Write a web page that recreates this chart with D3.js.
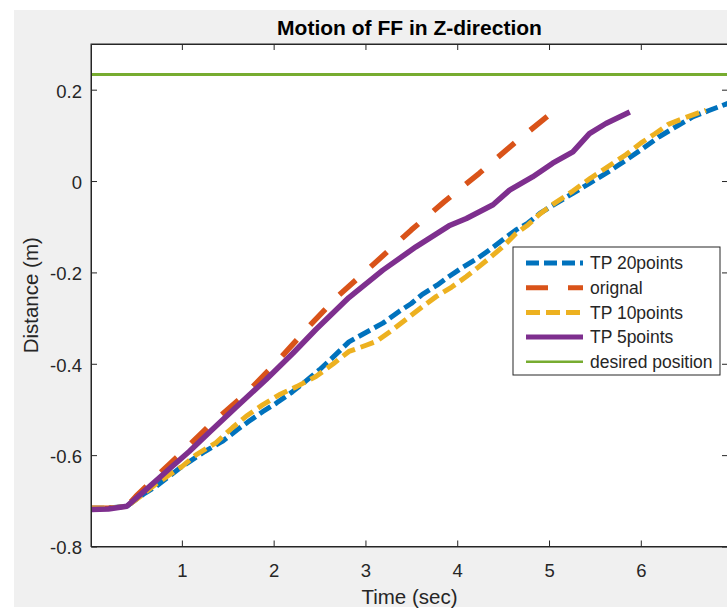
<!DOCTYPE html>
<html>
<head>
<meta charset="utf-8">
<script src="https://cdn.jsdelivr.net/npm/d3@7"></script>
<style>
  body { margin: 0; background: #fff; }
  text { font-family: "Liberation Sans", Arial, sans-serif; fill: #262626; }
</style>
</head>
<body>
<div id="chart"></div>
<script>
const width = 727;
const height = 610;

// series
const tp20X = [0.01,0.2,0.4,0.5,0.6,0.72,0.85,1.0,1.1,1.25,1.44,1.6,1.73,1.88,2.03,2.2,2.35,2.5,2.65,2.82,3.0,3.19,3.37,3.5,3.62,3.78,3.91,4.05,4.2,4.35,4.5,4.64,4.77,4.9,5.05,5.26,5.45,5.66,5.84,6.0,6.2,6.4,6.57,6.75,6.95];
const tp20Y = [-0.716,-0.716,-0.712,-0.697,-0.683,-0.668,-0.648,-0.625,-0.612,-0.592,-0.570,-0.545,-0.526,-0.505,-0.486,-0.462,-0.438,-0.413,-0.385,-0.352,-0.332,-0.311,-0.285,-0.268,-0.248,-0.228,-0.209,-0.19,-0.172,-0.151,-0.128,-0.107,-0.092,-0.071,-0.052,-0.027,-0.004,0.022,0.046,0.068,0.097,0.121,0.141,0.155,0.17];

const origX = [0.01,0.2,0.4,0.5,0.64,0.8,1.0,1.3,1.7,2.04,2.4,2.7,3.1,3.5,3.86,4.24,4.64,5.04,5.15];
const origY = [-0.716,-0.716,-0.712,-0.69,-0.663,-0.632,-0.594,-0.535,-0.465,-0.395,-0.315,-0.252,-0.18,-0.107,-0.045,0.017,0.086,0.151,0.168];

const tp10X = [0.01,0.2,0.4,0.55,0.7,0.85,1.0,1.15,1.37,1.55,1.7,1.88,2.06,2.25,2.46,2.65,2.82,3.0,3.12,3.3,3.48,3.62,3.77,3.94,4.1,4.22,4.35,4.5,4.64,4.77,4.9,5.05,5.26,5.45,5.66,5.84,6.0,6.15,6.3,6.5,6.71];
const tp10Y = [-0.716,-0.716,-0.712,-0.69,-0.666,-0.645,-0.625,-0.600,-0.573,-0.540,-0.515,-0.49,-0.468,-0.45,-0.428,-0.40,-0.373,-0.36,-0.351,-0.325,-0.297,-0.275,-0.253,-0.232,-0.209,-0.19,-0.169,-0.143,-0.115,-0.096,-0.072,-0.05,-0.022,0.006,0.034,0.058,0.083,0.103,0.124,0.14,0.155];

const tp5X = [0.01,0.2,0.4,0.6,0.825,1.08,1.3,1.59,1.915,2.21,2.46,2.82,3.19,3.55,3.91,4.1,4.39,4.57,4.82,5.04,5.26,5.44,5.62,5.88];
const tp5Y = [-0.719,-0.718,-0.712,-0.677,-0.637,-0.592,-0.55,-0.495,-0.435,-0.377,-0.325,-0.255,-0.195,-0.144,-0.098,-0.082,-0.052,-0.02,0.009,0.039,0.064,0.104,0.126,0.151];

const desiredX = [0.01, 6.95];
const desiredY = [0.233, 0.233];

const xTicks = [1, 2, 3, 4, 5, 6];
const yTicks = [-0.8, -0.6, -0.4, -0.2, 0, 0.2];

const seriesNames = ["TP 20points", "orignal", "TP 10points", "TP 5points", "desired position"];

const series = [
    { name: seriesNames[0], xs: tp20X, ys: tp20Y, color: "#0072BD", w: 5, dash: "13,5", lw: 5 },
    { name: seriesNames[1], xs: origX, ys: origY, color: "#D95319", w: 5.5, dash: "22,20", lw: 5 },
    { name: seriesNames[2], xs: tp10X, ys: tp10Y, color: "#EDB120", w: 5, dash: "14,6", lw: 5 },
    { name: seriesNames[3], xs: tp5X, ys: tp5Y, color: "#7E2F8E", w: 5.5, dash: null, lw: 5 },
    { name: seriesNames[4], xs: desiredX, ys: desiredY, color: "#77AC30", w: 3, dash: null, lw: 2.5 }
];

const plot = { left: 91, right: 728, top: 44, bottom: 546.5 };

const svg = d3.select("#chart")
    .append("svg")
    .attr("width", width)
    .attr("height", height);

// figure background (MATLAB grey)
svg.append("rect")
    .attr("x", 14).attr("y", 10)
    .attr("width", width - 14).attr("height", 597)
    .attr("fill", "#f0f0f0");

const x = d3.scaleLinear().domain([0.01, 6.95]).range([plot.left, plot.right]);
const y = d3.scaleLinear().domain([-0.8, 0.3]).range([plot.bottom, plot.top]);

svg.append("rect")
    .attr("x", plot.left).attr("y", plot.top)
    .attr("width", plot.right - plot.left).attr("height", plot.bottom - plot.top)
    .attr("fill", "#fff");

const clip = svg.append("clipPath").attr("id", "clip")
    .append("rect")
    .attr("x", plot.left).attr("y", plot.top)
    .attr("width", plot.right - plot.left).attr("height", plot.bottom - plot.top);

const line = d3.line()
    .x(d => x(d[0]))
    .y(d => y(d[1]));

const lines = svg.append("g").attr("clip-path", "url(#clip)");
series.forEach(s => {
    lines.append("path")
        .datum(s.xs.map((v, i) => [v, s.ys[i]]))
        .attr("d", line)
        .attr("fill", "none")
        .attr("stroke", s.color)
        .attr("stroke-width", s.w)
        .attr("stroke-dasharray", s.dash)
        .attr("stroke-linejoin", "round");
});

// axes, MATLAB style with ticks pointing in
const fmt = d => String(+d.toFixed(1));

const xAxis = svg.append("g")
    .attr("transform", `translate(0,${plot.bottom})`)
    .call(d3.axisBottom(x).tickValues(xTicks).tickSizeInner(-6).tickSizeOuter(0).tickPadding(17).tickFormat(fmt));

svg.append("g")
    .attr("transform", `translate(0,${plot.top})`)
    .call(d3.axisTop(x).tickValues(xTicks).tickSizeInner(-6).tickSizeOuter(0).tickFormat(""));

const yAxis = svg.append("g")
    .attr("transform", `translate(${plot.left},0)`)
    .call(d3.axisLeft(y).tickValues(yTicks).tickSizeInner(-6).tickSizeOuter(0).tickPadding(9).tickFormat(fmt));

svg.append("g")
    .attr("transform", `translate(${plot.right},0)`)
    .call(d3.axisRight(y).tickValues(yTicks).tickSizeInner(-6).tickSizeOuter(0).tickFormat(""));

svg.selectAll(".domain").attr("stroke", "#262626");
svg.selectAll(".tick line").attr("stroke", "#262626");
svg.selectAll(".tick text")
    .attr("font-family", "Liberation Sans, Arial, sans-serif")
    .attr("font-size", 18.5)
    .attr("fill", "#262626");
yAxis.selectAll(".tick text").attr("dy", "0.4em");

svg.append("rect")
    .attr("x", plot.left).attr("y", plot.top)
    .attr("width", plot.right - plot.left).attr("height", plot.bottom - plot.top)
    .attr("fill", "none")
    .attr("stroke", "#262626")
    .attr("stroke-width", 1);

// title and labels
svg.append("text")
    .attr("x", (plot.left + plot.right) / 2)
    .attr("y", 35)
    .attr("text-anchor", "middle")
    .attr("font-size", 21)
    .attr("font-weight", "bold")
    .style("fill", "#000")
    .text("Motion of FF in Z-direction");

svg.append("text")
    .attr("x", (plot.left + plot.right) / 2)
    .attr("y", 604)
    .attr("text-anchor", "middle")
    .attr("font-size", 20.5)
    .text("Time (sec)");

svg.append("text")
    .attr("transform", `translate(38,${(plot.top + plot.bottom) / 2}) rotate(-90)`)
    .attr("text-anchor", "middle")
    .attr("font-size", 20.5)
    .text("Distance (m)");

// legend
const legend = svg.append("g").attr("transform", "translate(513,247)");

legend.append("rect")
    .attr("width", 207)
    .attr("height", 128)
    .attr("fill", "#fff")
    .attr("stroke", "#262626")
    .attr("stroke-width", 1);

const rows = legend.selectAll("g.row")
    .data(series)
    .enter()
    .append("g")
    .attr("class", "row")
    .attr("transform", (d, i) => `translate(0,${16 + i * 24.7})`);

rows.append("line")
    .attr("x1", 13).attr("x2", 70)
    .attr("stroke", d => d.color)
    .attr("stroke-width", d => d.lw)
    .attr("stroke-dasharray", d => d.dash);

rows.append("text")
    .attr("x", 77)
    .attr("dy", "0.35em")
    .attr("font-size", 17.5)
    .text(d => d.name);
</script>
</body>
</html>
